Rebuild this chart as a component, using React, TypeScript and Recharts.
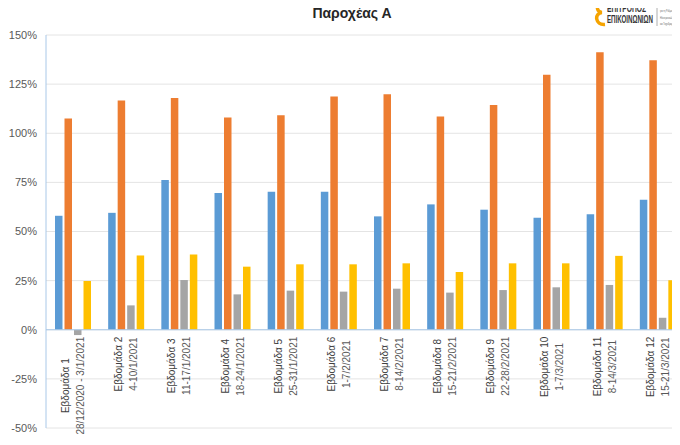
import { BarChart, Bar, XAxis, YAxis, CartesianGrid, ReferenceLine } from 'recharts';

const weeks = [
  'Εβδομάδα 1', 'Εβδομάδα 2', 'Εβδομάδα 3', 'Εβδομάδα 4', 'Εβδομάδα 5', 'Εβδομάδα 6',
  'Εβδομάδα 7', 'Εβδομάδα 8', 'Εβδομάδα 9', 'Εβδομάδα 10', 'Εβδομάδα 11', 'Εβδομάδα 12',
];
const dateRanges = [
  '28/12/2020 - 3/1/2021', '4-10/1/2021', '11-17/1/2021', '18-24/1/2021', '25-31/1/2021', '1-7/2/2021',
  '8-14/2/2021', '15-21/2/2021', '22-28/2/2021', '1-7/3/2021', '8-14/3/2021', '15-21/3/2021',
];

// τιμές σε %
const blueSeries = [58, 59.5, 76.2, 69.6, 70.2, 70.2, 57.7, 63.8, 61.1, 57, 58.8, 66.2];
const orangeSeries = [107.5, 116.7, 118, 108, 109.2, 118.7, 119.9, 108.5, 114.4, 129.8, 141.2, 137.2];
const graySeries = [-2.7, 12.4, 25.3, 18, 19.9, 19.4, 20.9, 18.9, 20.2, 21.6, 22.8, 6.1];
const yellowSeries = [24.8, 37.8, 38.3, 32.1, 33.3, 33.3, 33.8, 29.4, 33.8, 33.8, 37.6, 25.2];

const yTicks = [-50, -25, 0, 25, 50, 75, 100, 125, 150];

const data = weeks.map((w, i) => ({
  week: w,
  blue: blueSeries[i],
  orange: orangeSeries[i],
  gray: graySeries[i],
  yellow: yellowSeries[i],
}));

const CHART_W = 690;
const CHART_H = 445;
const X_AXIS_H = 1;
const MARGIN = { top: 35, right: 6, bottom: 16, left: 0 };
const PLOT_H = CHART_H - MARGIN.top - MARGIN.bottom - X_AXIS_H;
const Y_MIN = -50;
const Y_MAX = 150;
const FONT = '"Liberation Sans", Arial, sans-serif';

let measureCtx: CanvasRenderingContext2D | null = null;
function textWidth(s: string) {
  if (!measureCtx) {
    measureCtx = document.createElement('canvas').getContext('2d');
  }
  if (!measureCtx) return s.length * 5;
  measureCtx.font = `10px ${FONT}`;
  return measureCtx.measureText(s).width;
}

// ετικέτες κατηγοριών: περιστραμμένες, ξεκινούν κάτω από τη γραμμή του 0
function WeekTick(props: any) {
  const { x, y, payload } = props;
  let i = weeks.indexOf(payload && payload.value);
  if (i < 0) i = props.index ?? 0;
  const zeroY = y - (PLOT_H * (0 - Y_MIN)) / (Y_MAX - Y_MIN);
  const block = Math.max(textWidth(weeks[i]), textWidth(dateRanges[i]));
  const cy = zeroY + 7 + block / 2;
  return (
    <g transform={`translate(${x},${cy}) rotate(-90)`}>
      <text x={0} y={-7} textAnchor="middle" dominantBaseline="central" fontSize={10} fontFamily={FONT} fill="#404040">
        {weeks[i]}
      </text>
      <text x={0} y={8} textAnchor="middle" dominantBaseline="central" fontSize={10} fontFamily={FONT} fill="#595959">
        {dateRanges[i]}
      </text>
    </g>
  );
}

function Logo() {
  return (
    <svg width={90} height={30} style={{ position: 'absolute', left: 590, top: 0 }}>
      <path d="M15,2.5 C6,1 5,12 12,12.5 C4,13 5,25.5 15,24.5" stroke="#f5a300" strokeWidth={3.5} fill="none" />
      <text x={17} y={11.5} fontSize={10} fontWeight="bold" fontFamily={FONT} fill="#333" textLength={39} lengthAdjust="spacingAndGlyphs">
        ΕΠΙΤΡΟΠΟΣ
      </text>
      <text x={17} y={23} fontSize={10} fontWeight="bold" fontFamily={FONT} fill="#333" textLength={46} lengthAdjust="spacingAndGlyphs">
        ΕΠΙΚΟΙΝΩΝΙΩΝ
      </text>
      <line x1={67} y1={1} x2={67} y2={26} stroke="#999" strokeWidth={0.8} />
      <g transform="translate(70,0) scale(0.5)" fontSize={8} fontFamily={FONT} fill="#666">
        <text x={0} y={11} textLength={34} lengthAdjust="spacingAndGlyphs">Γραφείο Επιτρόπου</text>
        <text x={0} y={24} textLength={28} lengthAdjust="spacingAndGlyphs">για τη Ρύθμιση</text>
        <text x={0} y={37} textLength={34} lengthAdjust="spacingAndGlyphs">Ηλεκτρονικών Επ.</text>
        <text x={0} y={50} textLength={34} lengthAdjust="spacingAndGlyphs">και Ταχυδρομείων</text>
      </g>
    </svg>
  );
}

export default function App() {
  return (
    <div style={{ position: 'relative', width: 680, height: 445, overflow: 'hidden', margin: -8, background: '#fff' }}>
      <div
        style={{
          position: 'absolute',
          left: 252,
          top: 5,
          width: 200,
          textAlign: 'center',
          fontFamily: FONT,
          fontWeight: 'bold',
          fontSize: 14,
          lineHeight: '16px',
          color: '#262626',
        }}
      >
        Παροχέας Α
      </div>
      <Logo />
      <BarChart width={CHART_W} height={CHART_H} data={data} margin={MARGIN} barSize={7.5} barGap={2}>
        <CartesianGrid vertical={false} stroke="#e4e4e4" />
        <XAxis
          dataKey="week"
          height={X_AXIS_H}
          tickLine={false}
          axisLine={false}
          tickSize={0}
          tickMargin={0}
          interval={0}
          tick={WeekTick}
        />
        <YAxis
          width={46}
          domain={[Y_MIN, Y_MAX]}
          ticks={yTicks}
          tickFormatter={(v: number) => `${v}%`}
          tickLine={false}
          tickSize={0}
          tickMargin={9}
          axisLine={{ stroke: '#a9c8e8' }}
          tick={{ fontSize: 11, fontFamily: FONT, fill: '#595959' }}
        />
        <ReferenceLine y={0} stroke="#a9c8e8" />
        <Bar dataKey="blue" fill="#5b9bd5" isAnimationActive={false} />
        <Bar dataKey="orange" fill="#ed7d31" isAnimationActive={false} />
        <Bar dataKey="gray" fill="#a5a5a5" isAnimationActive={false} />
        <Bar dataKey="yellow" fill="#ffc000" isAnimationActive={false} />
      </BarChart>
    </div>
  );
}
